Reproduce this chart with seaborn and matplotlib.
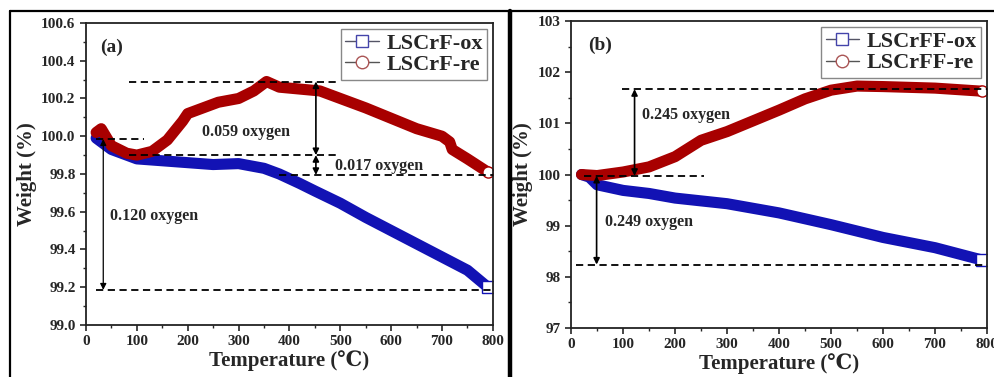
import matplotlib
matplotlib.use('Agg')
import matplotlib.pyplot as plt
from matplotlib.lines import Line2D
from matplotlib.ticker import MultipleLocator, FormatStrFormatter
import seaborn as sns
import pandas as pd

# panel (a): LSCrF
temp_a_ox = [20, 30, 50, 80, 100, 150, 200, 250, 300, 350, 380, 420, 450, 500, 550, 600, 650, 700, 750, 790]
wt_a_ox = [99.99, 99.97, 99.93, 99.90, 99.88, 99.87, 99.86, 99.85, 99.855, 99.83, 99.80, 99.75, 99.71, 99.645, 99.57, 99.50, 99.43, 99.36, 99.29, 99.20]
temp_a_re = [20, 30, 50, 80, 100, 130, 160, 190, 200, 230, 260, 300, 330, 355, 380, 420, 460, 500, 550, 600, 650, 700, 715, 720, 750, 790]
wt_a_re = [100.02, 100.04, 99.95, 99.91, 99.90, 99.92, 99.98, 100.08, 100.12, 100.15, 100.18, 100.20, 100.24, 100.29, 100.26, 100.25, 100.24, 100.20, 100.15, 100.095, 100.04, 100.0, 99.97, 99.93, 99.88, 99.81]

# panel (b): LSCrFF
temp_b_ox = [20, 35, 50, 100, 150, 200, 300, 400, 500, 600, 700, 790]
wt_b_ox = [100.0, 99.95, 99.80, 99.69, 99.63, 99.54, 99.43, 99.25, 99.02, 98.77, 98.57, 98.33]
temp_b_re = [20, 50, 100, 150, 200, 250, 300, 350, 400, 450, 500, 550, 600, 700, 790]
wt_b_re = [100.0, 99.98, 100.05, 100.15, 100.35, 100.67, 100.84, 101.05, 101.26, 101.48, 101.65, 101.73, 101.72, 101.69, 101.63]

labels_a = ['LSCrF-ox', 'LSCrF-re']
labels_b = ['LSCrFF-ox', 'LSCrFF-re']

BLUE = '#1212b4'
RED = '#a80000'

sns.set_style('ticks')
plt.rcParams['font.family'] = ['Liberation Serif', 'DejaVu Serif']
plt.rcParams['font.weight'] = 'bold'
plt.rcParams['axes.labelweight'] = 'bold'

fig = plt.figure(figsize=(9.95, 3.77), dpi=100)
ax_a = fig.add_axes([0.0864, 0.138, 0.409, 0.801])
ax_b = fig.add_axes([0.574, 0.130, 0.418, 0.814])


def band(ax, xs, ys, color, mk):
    df = pd.DataFrame({'T': xs, 'W': ys})
    sns.lineplot(data=df, x='T', y='W', ax=ax, color=color, linewidth=8,
                 sort=False, estimator=None, solid_capstyle='round',
                 solid_joinstyle='round', legend=False)
    ax.plot(xs[-1], ys[-1], marker=mk, ms=8, mfc='white', mec=color, mew=1, ls='none')


def style(ax, ylim, ymaj, ymin):
    ax.set_xlim(0, 800)
    ax.set_ylim(*ylim)
    ax.xaxis.set_major_locator(MultipleLocator(100))
    ax.xaxis.set_minor_locator(MultipleLocator(50))
    ax.yaxis.set_major_locator(MultipleLocator(ymaj))
    ax.yaxis.set_minor_locator(MultipleLocator(ymin))
    ax.tick_params(which='major', direction='out', length=4, width=1.2, labelsize=11)
    ax.tick_params(which='minor', direction='out', length=2.5, width=1)
    for s in ax.spines.values():
        s.set_linewidth(1.3)
        s.set_color('#222222')
    ax.set_xlabel('Temperature (\u2103)', fontsize=15, fontweight='bold', labelpad=1)
    ax.set_ylabel('Weight (%)', fontsize=15, fontweight='bold', labelpad=3)
    for t in ax.get_xticklabels() + ax.get_yticklabels():
        t.set_fontweight('bold')


def legend(ax, labels):
    handles = [
        Line2D([], [], color='#555566', lw=1, marker='s', ms=8, mfc='white', mec='#4444aa', mew=1),
        Line2D([], [], color='#555555', lw=1, marker='o', ms=9, mfc='white', mec='#aa5555', mew=1),
    ]
    leg = ax.legend(handles, labels, loc='upper right', fontsize=16, frameon=True, fancybox=False,
                    handlelength=1.5, handletextpad=0.35, borderpad=0.2, labelspacing=0.05,
                    borderaxespad=0.25, edgecolor='#888888', framealpha=1)
    for t in leg.get_texts():
        t.set_fontweight('bold')


def hdash(ax, y, x0, x1):
    ax.plot([x0, x1], [y, y], color='black', ls=(0, (4, 2.5)), lw=1.3, zorder=5)


def varrow(ax, x, y0, y1, lw=1.2):
    ax.annotate('', xy=(x, y1), xytext=(x, y0),
                arrowprops=dict(arrowstyle='<|-|>', color='black', lw=lw,
                                mutation_scale=9, shrinkA=0, shrinkB=0), zorder=6)


# ---- panel (a)
band(ax_a, temp_a_ox, wt_a_ox, BLUE, 's')
band(ax_a, temp_a_re, wt_a_re, RED, 'o')
style(ax_a, (99.0, 100.6), 0.2, 0.1)
ax_a.yaxis.set_major_formatter(FormatStrFormatter('%.1f'))
legend(ax_a, labels_a)
hdash(ax_a, 100.29, 85, 500)
hdash(ax_a, 99.985, 20, 115)
hdash(ax_a, 99.90, 85, 500)
hdash(ax_a, 99.795, 380, 800)
hdash(ax_a, 99.186, 20, 800)
varrow(ax_a, 452, 99.90, 100.29)
varrow(ax_a, 452, 99.795, 99.90)
varrow(ax_a, 34, 99.985, 99.186, lw=0.9)
ax_a.text(229, 100.02, '0.059 oxygen', fontsize=11.5, fontweight='bold', va='center')
ax_a.text(490, 99.84, '0.017 oxygen', fontsize=11.5, fontweight='bold', va='center')
ax_a.text(47, 99.58, '0.120 oxygen', fontsize=11.5, fontweight='bold', va='center')
ax_a.text(51, 100.47, '(a)', fontsize=14, fontweight='bold', ha='center', va='center')

# ---- panel (b)
band(ax_b, temp_b_ox, wt_b_ox, BLUE, 's')
band(ax_b, temp_b_re, wt_b_re, RED, 'o')
style(ax_b, (97, 103), 1, 0.5)
legend(ax_b, labels_b)
hdash(ax_b, 101.67, 97, 800)
hdash(ax_b, 99.975, 25, 255)
hdash(ax_b, 98.24, 10, 800)
varrow(ax_b, 122, 99.975, 101.67)
varrow(ax_b, 49, 99.975, 98.24)
ax_b.text(136, 101.16, '0.245 oxygen', fontsize=11.5, fontweight='bold', va='center')
ax_b.text(65, 99.08, '0.249 oxygen', fontsize=11.5, fontweight='bold', va='center')
ax_b.text(56, 102.53, '(b)', fontsize=14, fontweight='bold', ha='center', va='center')

# outer panel frames
W, H = 995.0, 377.0
fig.add_artist(Line2D([10 / W, 1], [1 - 10.5 / H, 1 - 10.5 / H], transform=fig.transFigure, color='black', lw=1.6))
fig.add_artist(Line2D([10.5 / W, 10.5 / W], [0, 1 - 10.5 / H], transform=fig.transFigure, color='black', lw=1.6))
fig.add_artist(Line2D([510.5 / W, 510.5 / W], [0, 1 - 10.5 / H], transform=fig.transFigure, color='black', lw=3.2))

fig.savefig('out.png', dpi=100)
